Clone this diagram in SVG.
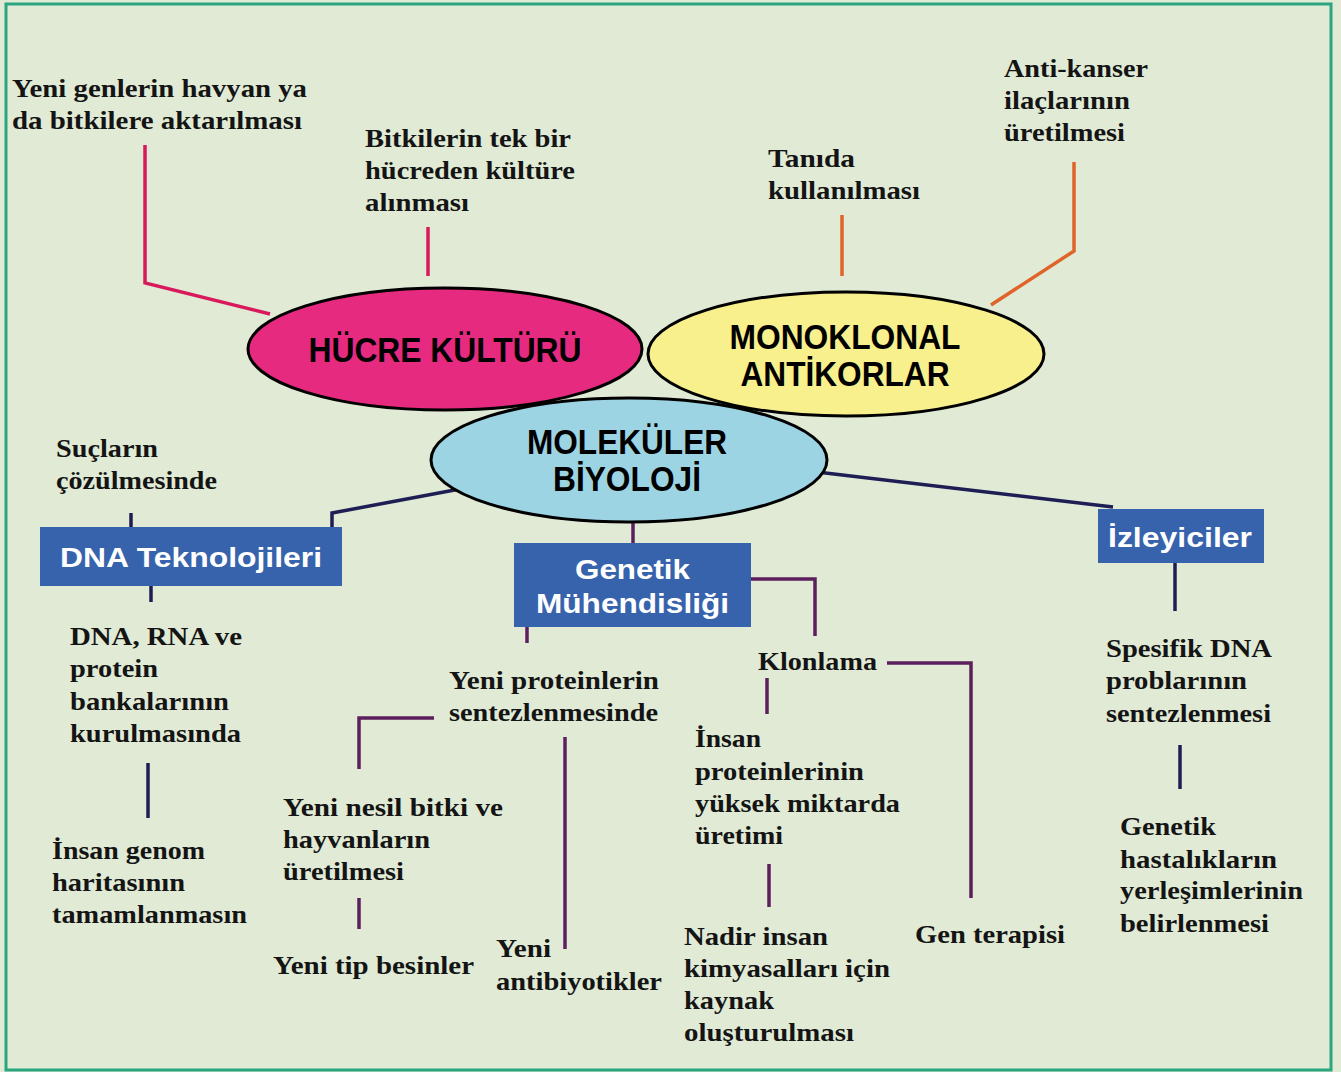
<svg xmlns="http://www.w3.org/2000/svg" width="1341" height="1072" viewBox="0 0 1341 1072">
<style>
.t{font-family:"Liberation Serif","Times New Roman",serif;font-weight:bold;font-size:25px;fill:#141414}
.e{font-family:"Liberation Sans",Arial,sans-serif;font-weight:bold;font-size:35px;fill:#000;text-anchor:middle}
.b{font-family:"Liberation Sans",Arial,sans-serif;font-weight:bold;font-size:28px;fill:#fff}
.box{fill:#3763ad}
.ell{stroke:#000;stroke-width:3}
.pink{stroke:#d81a5c;stroke-width:3.5;fill:none}
.orange{stroke:#e0632a;stroke-width:3.5;fill:none}
.navy{stroke:#1e1e55;stroke-width:3.5;fill:none}
.purple{stroke:#5c1f5e;stroke-width:3.5;fill:none}
</style>
<rect x="0" y="0" width="1341" height="1072" fill="#e0ead5"/>
<rect x="6" y="4" width="1325" height="1066" fill="none" stroke="#2aa57f" stroke-width="3"/>

<g id="connectors">
<polyline class="pink" points="145,145 145,283 270,314"/>
<line class="pink" x1="428" y1="227" x2="428" y2="276"/>
<line class="orange" x1="842" y1="215" x2="842" y2="276"/>
<polyline class="orange" points="1074,162 1074,251 991,305"/>
<polyline class="navy" points="332,527 332,513 460,489"/>
<line class="navy" x1="131" y1="513" x2="131" y2="527"/>
<line class="navy" x1="151" y1="586" x2="151" y2="602"/>
<line class="navy" x1="148" y1="763" x2="148" y2="818"/>
<path class="navy" d="M800,470 L1113,507"/>
<line class="navy" x1="1175" y1="562" x2="1175" y2="611"/>
<line class="navy" x1="1180" y1="745" x2="1180" y2="789"/>
<line class="purple" x1="633" y1="515" x2="633" y2="543"/>
<line class="purple" x1="527" y1="626" x2="527" y2="643"/>
<polyline class="purple" points="750,579 815,579 815,636"/>
<polyline class="purple" points="887,663 971,663 971,898"/>
<line class="purple" x1="767" y1="678" x2="767" y2="714"/>
<line class="purple" x1="769" y1="864" x2="769" y2="907"/>
<polyline class="purple" points="434,718 359,718 359,769"/>
<line class="purple" x1="359" y1="898" x2="359" y2="929"/>
<line class="purple" x1="565" y1="737" x2="565" y2="949"/>
</g>

<g id="hucre-kulturu">
<ellipse class="ell" cx="445" cy="349" rx="197" ry="61" fill="#e52a80"/>
<text class="e" x="445" y="362" textLength="273" lengthAdjust="spacingAndGlyphs">HÜCRE KÜLTÜRÜ</text>
</g>
<g id="monoklonal-antikorlar">
<ellipse class="ell" cx="846" cy="354" rx="198" ry="62" fill="#f8ef8d"/>
<text class="e" x="845" y="349" textLength="231" lengthAdjust="spacingAndGlyphs">MONOKLONAL</text>
<text class="e" x="845" y="386" textLength="209" lengthAdjust="spacingAndGlyphs">ANTİKORLAR</text>
</g>
<g id="molekuler-biyoloji">
<ellipse class="ell" cx="629" cy="460" rx="198" ry="62" fill="#9dd4e3"/>
<text class="e" x="627" y="454" textLength="200" lengthAdjust="spacingAndGlyphs">MOLEKÜLER</text>
<text class="e" x="627" y="491" textLength="148" lengthAdjust="spacingAndGlyphs">BİYOLOJİ</text>
</g>

<g id="dna-teknolojileri">
<rect class="box" x="40" y="527" width="302" height="59"/>
<text class="b" x="60" y="567" textLength="262" lengthAdjust="spacingAndGlyphs">DNA Teknolojileri</text>
</g>
<g id="genetik-muhendisligi">
<rect class="box" x="514" y="543" width="237" height="84"/>
<text class="b" x="575" y="579" textLength="115" lengthAdjust="spacingAndGlyphs">Genetik</text>
<text class="b" x="536" y="613" textLength="193" lengthAdjust="spacingAndGlyphs">Mühendisliği</text>
</g>
<g id="izleyiciler">
<rect class="box" x="1098" y="509" width="166" height="54"/>
<text class="b" x="1108" y="547" textLength="144" lengthAdjust="spacingAndGlyphs">İzleyiciler</text>
</g>

<g id="yeni-genler">
<text class="t" x="12" y="97" textLength="295" lengthAdjust="spacingAndGlyphs">Yeni genlerin havyan ya</text>
<text class="t" x="12" y="129" textLength="290" lengthAdjust="spacingAndGlyphs">da bitkilere aktarılması</text>
</g>
<g id="bitkilerin-tek">
<text class="t" x="365" y="147" textLength="206" lengthAdjust="spacingAndGlyphs">Bitkilerin tek bir</text>
<text class="t" x="365" y="179" textLength="210" lengthAdjust="spacingAndGlyphs">hücreden kültüre</text>
<text class="t" x="365" y="211" textLength="104" lengthAdjust="spacingAndGlyphs">alınması</text>
</g>
<g id="tanida">
<text class="t" x="768" y="167" textLength="87" lengthAdjust="spacingAndGlyphs">Tanıda</text>
<text class="t" x="768" y="199" textLength="152" lengthAdjust="spacingAndGlyphs">kullanılması</text>
</g>
<g id="anti-kanser">
<text class="t" x="1004" y="77" textLength="144" lengthAdjust="spacingAndGlyphs">Anti-kanser</text>
<text class="t" x="1004" y="109" textLength="126" lengthAdjust="spacingAndGlyphs">ilaçlarının</text>
<text class="t" x="1004" y="141" textLength="121" lengthAdjust="spacingAndGlyphs">üretilmesi</text>
</g>
<g id="suclarin">
<text class="t" x="56" y="457" textLength="102" lengthAdjust="spacingAndGlyphs">Suçların</text>
<text class="t" x="56" y="489" textLength="161" lengthAdjust="spacingAndGlyphs">çözülmesinde</text>
</g>
<g id="dna-rna">
<text class="t" x="70" y="645" textLength="172" lengthAdjust="spacingAndGlyphs">DNA, RNA ve</text>
<text class="t" x="70" y="677" textLength="88" lengthAdjust="spacingAndGlyphs">protein</text>
<text class="t" x="70" y="710" textLength="159" lengthAdjust="spacingAndGlyphs">bankalarının</text>
<text class="t" x="70" y="742" textLength="171" lengthAdjust="spacingAndGlyphs">kurulmasında</text>
</g>
<g id="insan-genom">
<text class="t" x="52" y="859" textLength="153" lengthAdjust="spacingAndGlyphs">İnsan genom</text>
<text class="t" x="52" y="891" textLength="133" lengthAdjust="spacingAndGlyphs">haritasının</text>
<text class="t" x="52" y="923" textLength="195" lengthAdjust="spacingAndGlyphs">tamamlanmasın</text>
</g>
<g id="yeni-proteinler">
<text class="t" x="449" y="689" textLength="210" lengthAdjust="spacingAndGlyphs">Yeni proteinlerin</text>
<text class="t" x="449" y="721" textLength="209" lengthAdjust="spacingAndGlyphs">sentezlenmesinde</text>
</g>
<g id="yeni-nesil">
<text class="t" x="283" y="816" textLength="220" lengthAdjust="spacingAndGlyphs">Yeni nesil bitki ve</text>
<text class="t" x="283" y="848" textLength="147" lengthAdjust="spacingAndGlyphs">hayvanların</text>
<text class="t" x="283" y="880" textLength="121" lengthAdjust="spacingAndGlyphs">üretilmesi</text>
</g>
<g id="yeni-tip-besinler">
<text class="t" x="273" y="974" textLength="201" lengthAdjust="spacingAndGlyphs">Yeni tip besinler</text>
</g>
<g id="yeni-antibiyotikler">
<text class="t" x="496" y="957" textLength="55" lengthAdjust="spacingAndGlyphs">Yeni</text>
<text class="t" x="496" y="990" textLength="166" lengthAdjust="spacingAndGlyphs">antibiyotikler</text>
</g>
<g id="klonlama">
<text class="t" x="758" y="670" textLength="119" lengthAdjust="spacingAndGlyphs">Klonlama</text>
</g>
<g id="insan-proteinleri">
<text class="t" x="695" y="747" textLength="66" lengthAdjust="spacingAndGlyphs">İnsan</text>
<text class="t" x="695" y="780" textLength="169" lengthAdjust="spacingAndGlyphs">proteinlerinin</text>
<text class="t" x="695" y="812" textLength="205" lengthAdjust="spacingAndGlyphs">yüksek miktarda</text>
<text class="t" x="695" y="844" textLength="88" lengthAdjust="spacingAndGlyphs">üretimi</text>
</g>
<g id="nadir-insan">
<text class="t" x="684" y="945" textLength="144" lengthAdjust="spacingAndGlyphs">Nadir insan</text>
<text class="t" x="684" y="977" textLength="206" lengthAdjust="spacingAndGlyphs">kimyasalları için</text>
<text class="t" x="684" y="1009" textLength="90" lengthAdjust="spacingAndGlyphs">kaynak</text>
<text class="t" x="684" y="1041" textLength="170" lengthAdjust="spacingAndGlyphs">oluşturulması</text>
</g>
<g id="gen-terapisi">
<text class="t" x="915" y="943" textLength="150" lengthAdjust="spacingAndGlyphs">Gen terapisi</text>
</g>
<g id="spesifik-dna">
<text class="t" x="1106" y="657" textLength="166" lengthAdjust="spacingAndGlyphs">Spesifik DNA</text>
<text class="t" x="1106" y="689" textLength="141" lengthAdjust="spacingAndGlyphs">problarının</text>
<text class="t" x="1106" y="722" textLength="165" lengthAdjust="spacingAndGlyphs">sentezlenmesi</text>
</g>
<g id="genetik-hastaliklar">
<text class="t" x="1120" y="835" textLength="96" lengthAdjust="spacingAndGlyphs">Genetik</text>
<text class="t" x="1120" y="868" textLength="157" lengthAdjust="spacingAndGlyphs">hastalıkların</text>
<text class="t" x="1120" y="899" textLength="183" lengthAdjust="spacingAndGlyphs">yerleşimlerinin</text>
<text class="t" x="1120" y="932" textLength="149" lengthAdjust="spacingAndGlyphs">belirlenmesi</text>
</g>
</svg>
